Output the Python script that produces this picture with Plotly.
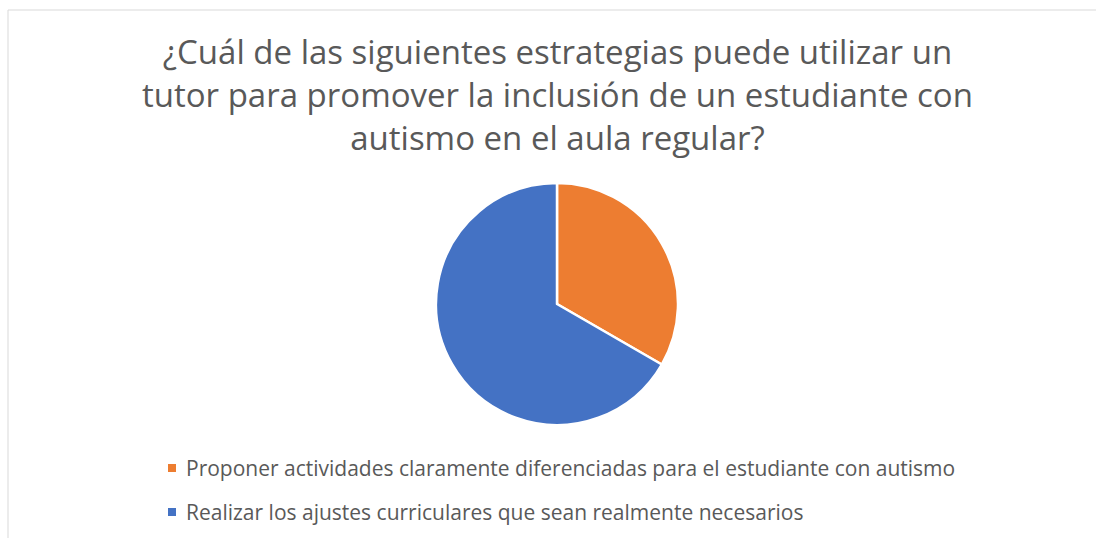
import plotly.graph_objects as go

labels = [
    "Proponer actividades claramente diferenciadas para el estudiante con autismo",
    "Realizar los ajustes curriculares que sean realmente necesarios",
]
values = [1, 2]
colors = ["#ED7D31", "#4472C4"]
title_text = ("¿Cuál de las siguientes estrategias puede utilizar un<br>"
              "tutor para promover la inclusión de un estudiante con<br>"
              "autismo en el aula regular?")

W, H = 1096, 538
FONT = "'Open Sans', sans-serif"
GRAY = "#595959"

def px(x):
    return x / W

def py(y):
    return 1 - y / H

fig = go.Figure()
cx, cy, r = 557, 304, 121
fig.add_trace(go.Pie(
    labels=labels, values=values, sort=False, direction="clockwise", rotation=0,
    marker=dict(colors=colors, line=dict(color="white", width=2.5)),
    textinfo="none", hoverinfo="label+percent", showlegend=False,
    domain=dict(x=[px(cx - r), px(cx + r)], y=[py(cy + r), py(cy - r)]),
))

annotations = [dict(
    text=title_text, x=px(557), y=py(94), xref="paper", yref="paper",
    xanchor="center", yanchor="middle", showarrow=False, align="center",
    font=dict(family=FONT, size=33, color=GRAY),
)]
shapes = [dict(type="rect", xref="paper", yref="paper",
               x0=px(8), x1=1.2, y0=-0.2, y1=py(10),
               line=dict(color="#D9D9D9", width=1), fillcolor="rgba(0,0,0,0)")]

leg_y = [468, 512]
for lab, col, yy in zip(labels, colors, leg_y):
    shapes.append(dict(type="rect", xref="paper", yref="paper",
                       x0=px(168), x1=px(176), y0=py(yy + 4), y1=py(yy - 4),
                       line=dict(width=0), fillcolor=col))
    annotations.append(dict(
        text=lab, x=px(184), y=py(yy), xref="paper", yref="paper",
        xanchor="left", yanchor="middle", showarrow=False,
        font=dict(family=FONT, size=21, color=GRAY),
    ))

fig.update_layout(
    width=W, height=H, margin=dict(l=0, r=0, t=0, b=0),
    paper_bgcolor="white", plot_bgcolor="white",
    annotations=annotations, shapes=shapes,
)
fig.write_html(
    "out.html",
    config={"displayModeBar": False},
    post_script="document.body.style.margin='0';document.body.style.overflow='hidden';",
)
